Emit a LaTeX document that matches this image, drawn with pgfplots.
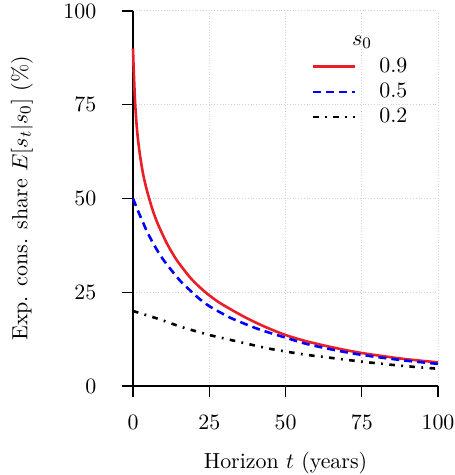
\documentclass[border=0pt]{standalone}
\usepackage{pgfplots}
\pgfplotsset{compat=1.18}
\definecolor{cred}{RGB}{235,30,40}
\begin{document}
\fontsize{10.95}{13.6}\selectfont
\begin{tikzpicture}
\begin{axis}[
  scale only axis,
  width=152.5pt, height=187.5pt,
  xmin=0, xmax=100, ymin=0, ymax=100,
  axis x line*=bottom, axis y line*=left,
  axis line style={line width=0.6pt, -},
  xtick={0,25,50,75,100}, ytick={0,25,50,75,100},
  tick align=outside, major tick length=5.5pt,
  tick style={line width=0.6pt, black},
  grid=major,
  major grid style={densely dotted, gray!35, line width=0.5pt},
  xticklabel style={yshift=-5.3pt},
  yticklabel style={xshift=-9pt},
  xlabel={Horizon $t$ (years)},
  ylabel={Exp. cons. share $E[s_t|s_0]$ (\%)},
  xlabel style={at={(axis description cs:0.5,-0.2187)}, anchor=base},
  ylabel style={at={(axis description cs:-0.364,0.5)}, anchor=center},
  clip=false,
  legend style={draw=none, fill=none, at={(axis cs:56.5,89.8)}, anchor=north west,
    nodes={inner sep=2pt},
    row sep=-0.3pt, /tikz/every odd column/.append style={column sep=9.5pt}},
  legend cell align=left,
  legend image code/.code={\draw[#1] (0pt,0pt) -- (21pt,0pt);},
]
\addplot[cred, line width=1.3pt, smooth] coordinates {
(0,90) (0.2,85) (0.45,80) (0.7,75.5) (1.1,70.5) (1.6,66) (2.3,61.5) (3.2,57) (4.2,53.3) (5.3,50) (6.3,47.3) (7.5,44.5) (8.8,42) (11,38.2) (13,35.3) (15,32.8) (19.2,28.5) (23.6,25.1) (28,22.4) (33,20) (38,17.8) (43.8,15.6) (50,13.6) (57,11.9) (66,10.2) (75,8.8) (88,7.3) (100,6.3)
};
\addlegendentry{0.9}
\addplot[blue, line width=1.3pt, dash pattern=on 4pt off 2.5pt, smooth] coordinates {
(0,50) (1,48) (2,46) (3.3,43.6) (4.7,41) (7.2,37.2) (10,33.6) (15.2,28.3) (18.7,25.5) (22,23.1) (25,21.3) (30,19.0) (33,17.8) (40,15.5) (44,14.4) (50,12.9) (57,11.2) (66,9.6) (75,8.3) (88,6.9) (100,5.9)
};
\addlegendentry{0.5}
\addplot[black, line width=1.3pt, dash pattern=on 2.8pt off 3.2pt on 0.9pt off 3.2pt, smooth] coordinates {
(0,20) (8.3,17.9) (16,15.7) (22,14.3) (25,13.6) (33,12.1) (43.8,10.1) (50,9.2) (57,8.3) (62,7.8) (75,6.5) (88,5.4) (100,4.6)
};
\addlegendentry{0.2}
\node at (axis cs:75.1,91.7) {$s_0$};
\end{axis}
\pgfresetboundingbox
\path[use as bounding box] (-66.5pt,-44.5pt) rectangle (160.5pt,193pt);
\end{tikzpicture}
\end{document}
